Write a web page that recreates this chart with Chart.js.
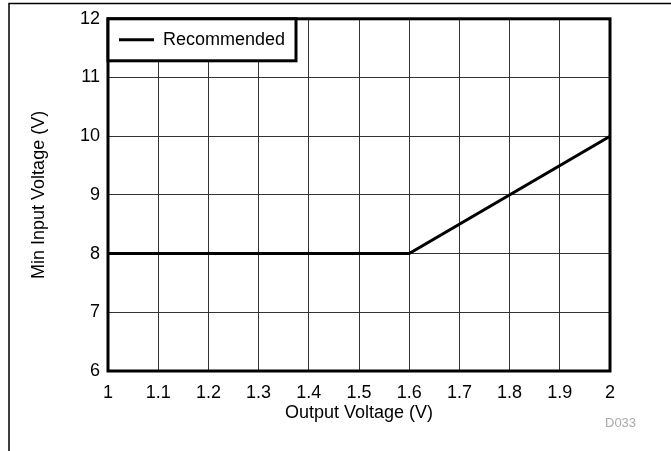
<!DOCTYPE html>
<html>
<head>
<meta charset="utf-8">
<script src="https://cdn.jsdelivr.net/npm/chart.js@4.4.1/dist/chart.umd.min.js"></script>
<style>
  html, body { margin: 0; padding: 0; background: #fff; }
  #wrap { width: 671px; height: 451px; }
</style>
</head>
<body>
<div id="wrap"><canvas id="line-chartcanvas" width="671" height="451"></canvas></div>
<script>
// data
var outputVoltage = [1, 1.6, 2];
var minInputVoltage = [8, 8, 10];
var seriesLabel = "Recommended";
var xTicks = [1, 1.1, 1.2, 1.3, 1.4, 1.5, 1.6, 1.7, 1.8, 1.9, 2];
var yTicks = [6, 7, 8, 9, 10, 11, 12];

var fontFamily = "'Liberation Sans', Arial, sans-serif";

// frame, plot border, legend box and figure id
var decorations = {
	id : "decorations",
	afterDatasetsDraw : function(chart) {
		var c = chart.ctx, a = chart.chartArea;
		c.save();
		// outer figure frame (top and left only)
		c.strokeStyle = "#000";
		c.lineWidth = 1.5;
		c.beginPath();
		c.moveTo(671, 3.5);
		c.lineTo(9, 3.5);
		c.lineTo(9, 451);
		c.stroke();
		// plot border
		c.lineWidth = 3;
		c.strokeRect(a.left, a.top, a.right - a.left, a.bottom - a.top);
		// legend box
		var ds = chart.data.datasets[0];
		c.fillStyle = "#fff";
		c.fillRect(a.left, a.top, 188, 42);
		c.strokeRect(a.left, a.top, 188, 42);
		c.strokeStyle = ds.borderColor;
		c.lineWidth = 3;
		c.beginPath();
		c.moveTo(a.left + 11, a.top + 21);
		c.lineTo(a.left + 46, a.top + 21);
		c.stroke();
		c.fillStyle = "#000";
		c.font = "18px " + fontFamily;
		c.textBaseline = "middle";
		c.fillText(ds.label, a.left + 55, a.top + 21);
		// figure id
		c.fillStyle = "#aaa";
		c.font = "13px " + fontFamily;
		c.fillText("D033", 605, 423);
		c.restore();
	}
};

var data = {
	datasets : [
		{
			label : seriesLabel,
			data : outputVoltage.map(function(x, i) { return { x : x, y : minInputVoltage[i] }; }),
			borderColor : "#000",
			backgroundColor : "#000",
			borderWidth : 3,
			pointRadius : 0,
			fill : false,
			tension : 0
		}
	]
};

var options = {
	responsive : false,
	animation : false,
	layout : { padding : { left : 10, top : 16, right : 61, bottom : 0 } },
	plugins : {
		legend : { display : false },
		tooltip : { enabled : false }
	},
	scales : {
		x : {
			type : "linear",
			min : 1,
			max : 2,
			afterBuildTicks : function(s) { s.ticks = xTicks.map(function(v) { return { value : v }; }); },
			afterFit : function(s) { s.height = 80; },
			grid : { color : "#333", lineWidth : 1, drawTicks : false },
			border : { display : false },
			ticks : {
				padding : 11,
				color : "#000",
				font : { size : 18, family : fontFamily },
				maxRotation : 0,
				callback : function(v) { return String(Math.round(v * 10) / 10); }
			},
			title : {
				display : true,
				text : "Output Voltage (V)",
				color : "#000",
				font : { size : 18, family : fontFamily },
				padding : { top : 0, bottom : 27 }
			}
		},
		y : {
			type : "linear",
			min : 6,
			max : 12,
			afterBuildTicks : function(s) { s.ticks = yTicks.map(function(v) { return { value : v }; }); },
			afterFit : function(s) { s.width = 98; },
			grid : { color : "#333", lineWidth : 1, drawTicks : false },
			border : { display : false },
			ticks : {
				padding : 8,
				color : "#000",
				font : { size : 18, family : fontFamily }
			},
			title : {
				display : true,
				text : "Min Input Voltage (V)",
				color : "#000",
				font : { size : 18, family : fontFamily },
				padding : { top : 18, bottom : 0 }
			}
		}
	}
};

var chart = new Chart(document.getElementById("line-chartcanvas"), {
	type : "line",
	data : data,
	options : options,
	plugins : [decorations]
});
</script>
</body>
</html>
